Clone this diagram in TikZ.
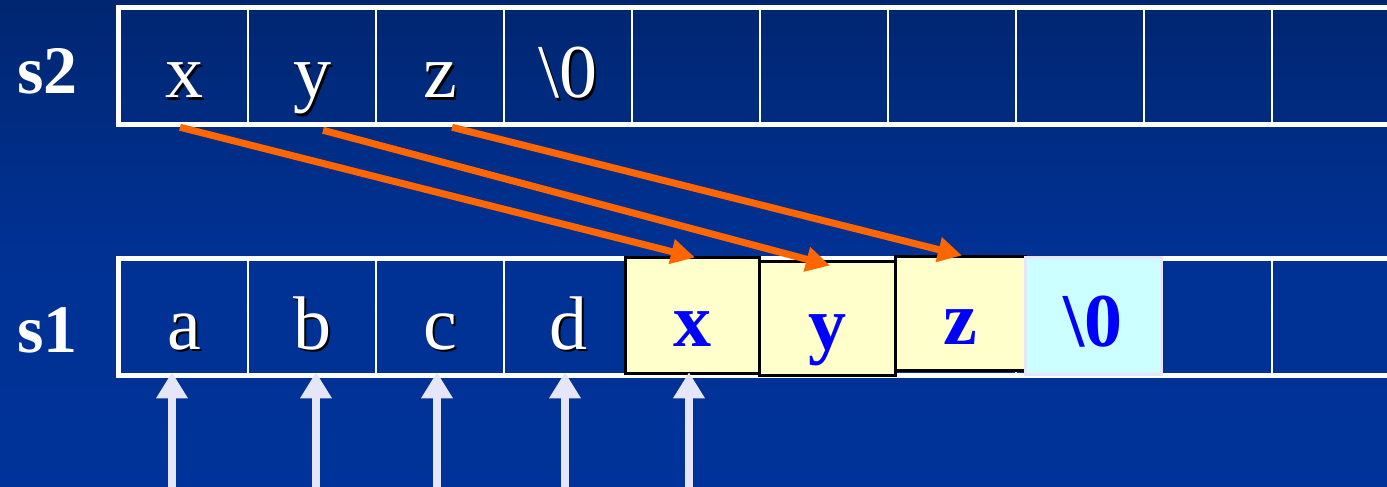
\documentclass[tikz,border=0pt]{standalone}
\usepackage{fontspec}
\setmainfont{Liberation Serif}
\usetikzlibrary{arrows.meta}
\definecolor{bgtop}{RGB}{0,38,112}
\definecolor{bgbot}{RGB}{0,51,153}
\definecolor{arrorange}{RGB}{255,102,0}
\definecolor{lav}{RGB}{230,230,250}
\definecolor{lyellow}{RGB}{255,255,204}
\definecolor{lcyan}{RGB}{204,255,255}
\newcommand\shd[1]{\makebox[0pt][l]{\hspace{2.2pt}\raisebox{-2.2pt}{\color{black}#1}}{\color{white}#1}}
\tikzset{
  cell/.style={draw=white, line width=2.5pt, minimum width=128pt, minimum height=114pt,
    inner sep=0pt, text height=70pt, text depth=6pt,
    font=\fontsize{76}{80}\selectfont},
  hicell/.style={draw=black, line width=3pt, fill=lyellow, inner sep=0pt,
    text height=68pt, text depth=6pt, text=blue,
    font=\fontsize{76}{80}\selectfont\bfseries},
  nulcell/.style={hicell, draw=lav, fill=lcyan},
  outer/.style={draw=white, line width=5pt},
  lbl/.style={anchor=base west, inner sep=0pt, text=white,
    font=\fontsize{68}{70}\selectfont\bfseries},
  copyarrow/.style={draw=arrorange, line width=7pt,
    -{Triangle[length=24pt, width=24pt]}},
  uparrow/.style={draw=lav, line width=8.5pt,
    -{Triangle[length=26pt, width=30pt]}},
}
\begin{document}
\begin{tikzpicture}[x=1pt, y=-1pt]
\useasboundingbox (0,0) rectangle (1387,487);
\clip (0,0) rectangle (1387,487);
\shade[top color=bgtop, bottom color=bgbot, middle color=bgbot!85!bgtop] (0,0) rectangle (1387,487);

% labels
\node[lbl] (ls2) at (17,93) {s2};
\node[lbl] (ls1) at (17,352) {s1};

% s2 array
\node[cell] (s2c1) at (184,66) {\shd{x}};
\node[cell] (s2c2) at (312,66) {\shd{y}};
\node[cell] (s2c3) at (440,66) {\shd{z}};
\node[cell] (s2c4) at (568,66) {\shd{\textbackslash 0}};
\node[cell] (s2c5) at (696,66) {};
\node[cell] (s2c6) at (824,66) {};
\node[cell] (s2c7) at (952,66) {};
\node[cell] (s2c8) at (1080,66) {};
\node[cell] (s2c9) at (1208,66) {};
\node[cell] (s2c10) at (1336,66) {};
\draw[outer] (s2c1.north west) rectangle (s2c10.south east);

% s1 array
\node[cell] (s1c1) at (184,317) {\shd{a}};
\node[cell] (s1c2) at (312,317) {\shd{b}};
\node[cell] (s1c3) at (440,317) {\shd{c}};
\node[cell] (s1c4) at (568,317) {\shd{d}};
\node[cell] (s1c5) at (696,317) {};
\node[cell] (s1c6) at (824,317) {};
\node[cell] (s1c7) at (952,317) {};
\node[cell] (s1c8) at (1080,317) {};
\node[cell] (s1c9) at (1208,317) {};
\node[cell] (s1c10) at (1336,317) {};
\draw[outer] (s1c1.north west) rectangle (s1c10.south east);

% copied characters
\node[hicell, minimum width=134pt, minimum height=116pt] (s1x) at (692,315) {x};
\node[hicell, minimum width=136pt, minimum height=114pt] (s1y) at (827,318) {y};
\node[hicell, minimum width=130pt, minimum height=114pt] (s1z) at (960,313) {z};
\node[nulcell, minimum width=136pt, minimum height=117pt] (s1n) at (1093,315.5) {\textbackslash 0};

% copy arrows
\draw[copyarrow] ([xshift=-4pt,yshift=-3pt]s2c1.south) -- ([xshift=3pt,yshift=-2pt]s1x.north);
\draw[copyarrow] ([xshift=11pt,yshift=-6pt]s2c2.south) -- ([xshift=3pt,yshift=-6pt]s1y.north);
\draw[copyarrow] ([xshift=12pt,yshift=-3pt]s2c3.south) -- ([xshift=2pt,yshift=-1pt]s1z.north);

% pointer arrows
\coordinate (u1) at (172,492);
\coordinate (u2) at (316,492);
\coordinate (u3) at (437,492);
\coordinate (u4) at (565,492);
\coordinate (u5) at (689,492);
\draw[uparrow] (u1) -- ([yshift=3pt]u1 |- s1c1.south);
\draw[uparrow] (u2) -- ([yshift=3pt]u2 |- s1c2.south);
\draw[uparrow] (u3) -- ([yshift=3pt]u3 |- s1c3.south);
\draw[uparrow] (u4) -- ([yshift=3pt]u4 |- s1c4.south);
\draw[uparrow] (u5) -- ([yshift=3pt]u5 |- s1c5.south);
\end{tikzpicture}
\end{document}
